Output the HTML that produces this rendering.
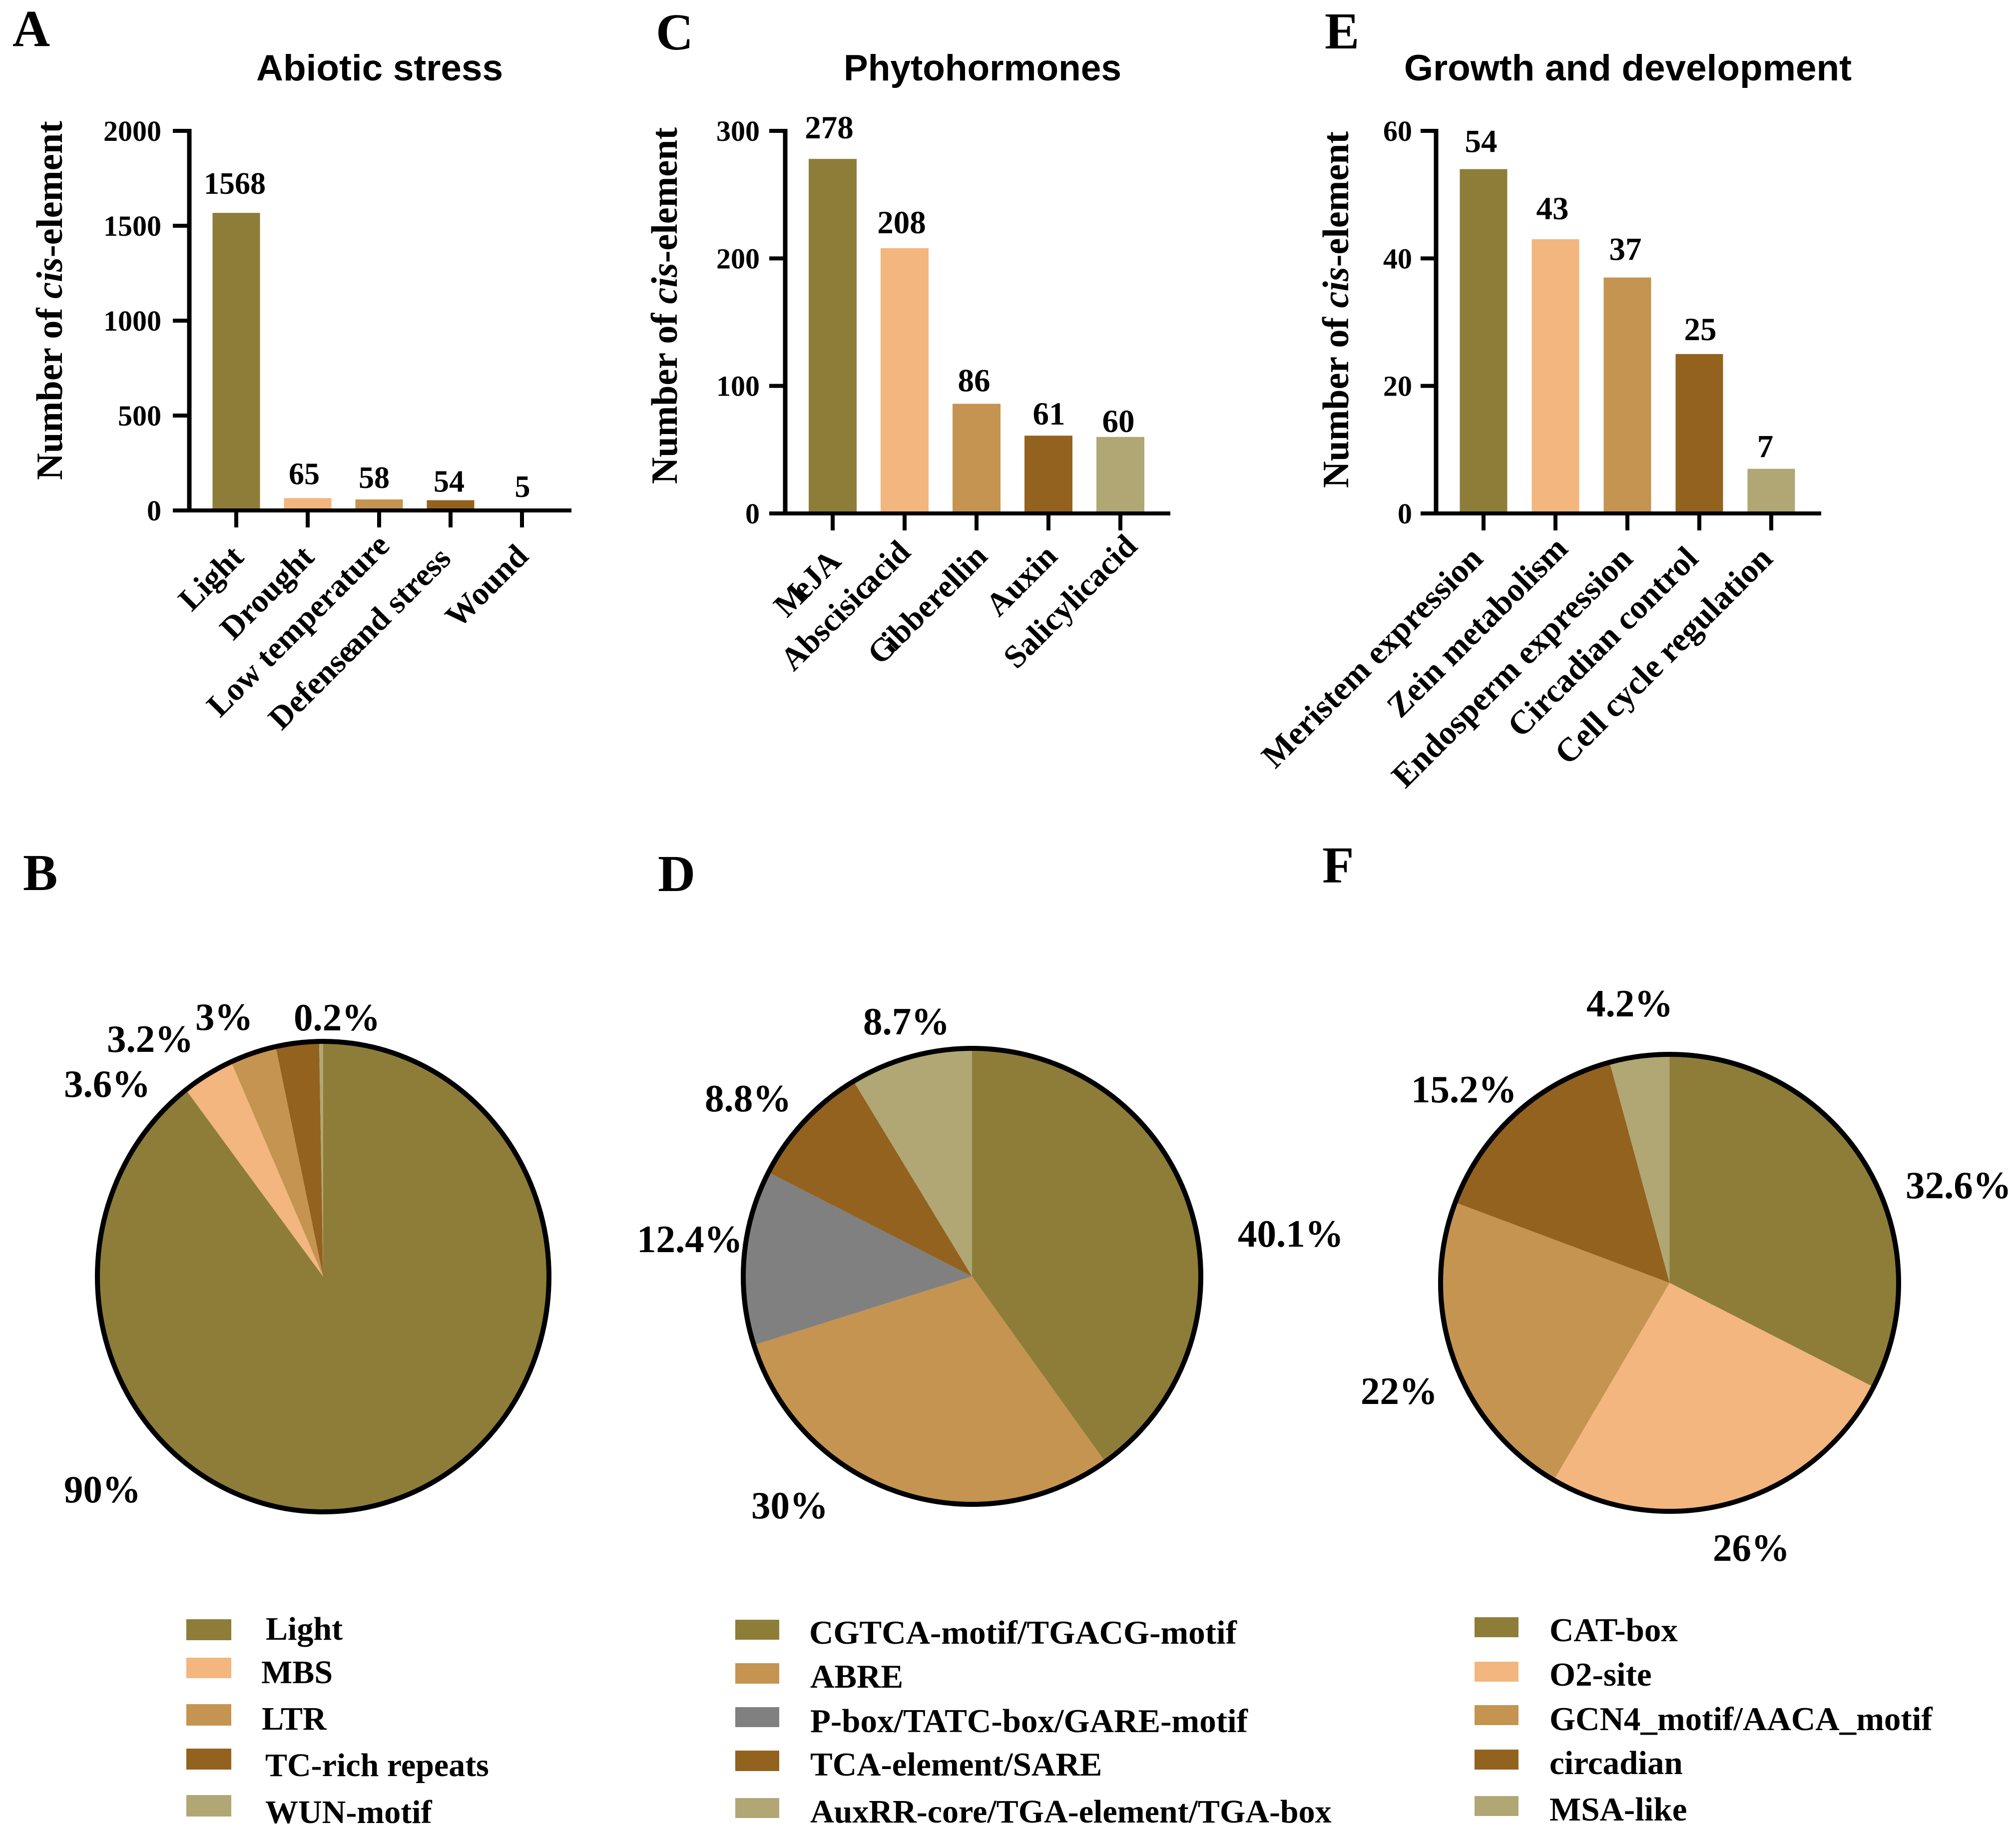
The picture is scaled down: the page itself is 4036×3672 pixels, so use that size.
<!DOCTYPE html>
<html lang="en">
<head>
<meta charset="utf-8">
<title>cis-element charts</title>
<style>
html,body{margin:0;padding:0;background:#fff;}
svg{display:block;}
text{font-family:"Liberation Serif",serif;font-weight:700;fill:#000;}
.ttl{font-family:"Liberation Sans",sans-serif;font-size:73px;}
.let{font-size:104px;}
.yl{font-size:74px;}
.leg{font-size:67px;}
.leg1{font-size:66px;}
</style>
</head>
<body>
<svg id="fig" xmlns="http://www.w3.org/2000/svg" width="4036" height="3672" viewBox="0 0 4036 3672">
<rect width="4036" height="3672" fill="#fff"/>

<text class="let" x="25" y="92">A</text>
<text class="let" x="46" y="1782">B</text>
<text class="let" x="1313" y="99">C</text>
<text class="let" x="1317" y="1784">D</text>
<text class="let" x="2652" y="97">E</text>
<text class="let" x="2647" y="1767">F</text>

<text class="ttl" x="513" y="161" textLength="494" lengthAdjust="spacingAndGlyphs">Abiotic stress</text>
<text class="ttl" x="1689" y="161" textLength="556" lengthAdjust="spacingAndGlyphs">Phytohormones</text>
<text class="ttl" x="2811" y="161" textLength="896" lengthAdjust="spacingAndGlyphs">Growth and development</text>

<text class="yl" transform="translate(124,961) rotate(-90)" textLength="719" lengthAdjust="spacingAndGlyphs">Number of <tspan font-style="italic">cis</tspan>-element</text>
<text class="yl" transform="translate(1355,969) rotate(-90)" textLength="714" lengthAdjust="spacingAndGlyphs">Number of <tspan font-style="italic">cis</tspan>-element</text>
<text class="yl" transform="translate(2699,977) rotate(-90)" textLength="714" lengthAdjust="spacingAndGlyphs">Number of <tspan font-style="italic">cis</tspan>-element</text>

<g id="plots"></g>

<g>
<g><rect x="373" y="3242" width="90" height="42" fill="#8D7D38"/><text class="leg1" x="532" y="3283">Light</text></g>
<g><rect x="373" y="3319" width="90" height="41" fill="#F2B67E"/><text class="leg1" x="523" y="3370">MBS</text></g>
<g><rect x="373" y="3412" width="90" height="43" fill="#C49450"/><text class="leg1" x="524" y="3463">LTR</text></g>
<g><rect x="373" y="3501" width="90" height="42" fill="#93621F"/><text class="leg1" x="531" y="3556">TC-rich repeats</text></g>
<g><rect x="373" y="3594" width="90" height="43" fill="#B1A774"/><text class="leg1" x="531" y="3650">WUN-motif</text></g>
</g>
<g>
<g><rect x="1472" y="3243" width="88" height="40" fill="#8D7D38"/><text class="leg" x="1620" y="3291">CGTCA-motif/TGACG-motif</text></g>
<g><rect x="1472" y="3330" width="88" height="41" fill="#C49450"/><text class="leg" x="1622" y="3379">ABRE</text></g>
<g><rect x="1472" y="3418" width="88" height="40" fill="#808080"/><text class="leg" x="1622" y="3468">P-box/TATC-box/GARE-motif</text></g>
<g><rect x="1472" y="3505" width="88" height="41" fill="#93621F"/><text class="leg" x="1622" y="3555">TCA-element/SARE</text></g>
<g><rect x="1472" y="3600" width="88" height="40" fill="#B1A774"/><text class="leg1" x="1622" y="3649">AuxRR-core/TGA-element/TGA-box</text></g>
</g>
<g>
<g><rect x="2952" y="3238" width="88" height="40" fill="#8D7D38"/><text class="leg" x="3102" y="3286">CAT-box</text></g>
<g><rect x="2952" y="3327" width="88" height="40" fill="#F2B67E"/><text class="leg" x="3102" y="3375">O2-site</text></g>
<g><rect x="2952" y="3414" width="88" height="40" fill="#C49450"/><text class="leg" x="3102" y="3464">GCN4_motif/AACA_motif</text></g>
<g><rect x="2952" y="3503" width="88" height="40" fill="#93621F"/><text class="leg" x="3102" y="3552">circadian</text></g>
<g><rect x="2952" y="3596" width="88" height="40" fill="#B1A774"/><text class="leg" x="3102" y="3645">MSA-like</text></g>
</g>
</svg>

<script>
const abioticCategories = ['Light', 'Drought', 'Low temperature', 'Defense and stress', 'Wound'];
const abioticCounts = [1568, 65, 58, 54, 5];
const abioticTicks = [0, 500, 1000, 1500, 2000];

const hormoneCategories = ['MeJA', 'Abscisic acid', 'Gibberellin', 'Auxin', 'Salicylic acid'];
const hormoneCounts = [278, 208, 86, 61, 60];
const hormoneTicks = [0, 100, 200, 300];

const growthCategories = ['Meristem expression', 'Zein metabolism', 'Endosperm expression', 'Circadian control', 'Cell cycle regulation'];
const growthCounts = [54, 43, 37, 25, 7];
const growthTicks = [0, 20, 40, 60];

/* Printed pie percentages; slice angles are drawn from the counts. */
const abioticShareLabels = ['90%', '3.6%', '3.2%', '3%', '0.2%'];
const hormoneShareLabels = ['40.1%', '30%', '12.4%', '8.8%', '8.7%'];
const growthShareLabels = ['32.6%', '26%', '22%', '15.2%', '4.2%'];

const OLIVE = '#8D7D38', PEACH = '#F2B67E', TAN = '#C49450', BROWN = '#93621F', KHAKI = '#B1A774', GREY = '#808080';
const NS = 'http://www.w3.org/2000/svg';
const plots = document.getElementById('plots');

function make(tag, attrs, parent) {
  const el = document.createElementNS(NS, tag);
  for (const k in attrs) el.setAttribute(k, attrs[k]);
  parent.appendChild(el);
  return el;
}

/* Labels whose glyphs overlap in the figure: [split index, extra shift in px] */
const labelOverlaps = {
  'MeJA': [1, -12],
  'Abscisic acid': [8, -24],
  'Salicylic acid': [9, -17],
  'Defense and stress': [7, -24],
  'Gibberellin': [1, -10]
};

function drawBarPanel(cfg) {
  const g = make('g', {}, plots);
  
  

  const yMax = cfg.ticks[cfg.ticks.length - 1];
  const yScale = v => cfg.y0 + (cfg.yTop - cfg.y0) * v / yMax;
  const xScale = i => cfg.x0 + cfg.step * i;

  cfg.values.forEach((v, i) => {
    const bar = make('rect', {
      x: xScale(i) - cfg.barW / 2,
      y: yScale(v),
      width: cfg.barW,
      height: Math.max(0, cfg.y0 - yScale(v)),
      fill: cfg.colors[i]
    }, g);
    
    

    const val = make('text', {
      x: xScale(i) + cfg.valDx[i],
      y: yScale(v) - cfg.valDy[i],
      'text-anchor': 'middle',
      'font-size': cfg.valSize
    }, g);
    val.textContent = String(v);
    
    

    const tick = make('line', {
      x1: xScale(i), x2: xScale(i), y1: cfg.y0, y2: cfg.y0 + 34,
      stroke: '#000', 'stroke-width': 8
    }, g);
    
    

    const ax = xScale(i) + cfg.catDx[i], ay = cfg.catY[i];
    const cat = make('text', {
      transform: 'translate(' + ax + ',' + ay + ') rotate(-45)',
      'text-anchor': 'end',
      'font-size': cfg.catSize
    }, g);
    const name = cfg.categories[i];
    const ov = labelOverlaps[name];
    if (ov) {
      const a = make('tspan', {}, cat);
      a.textContent = name.slice(0, ov[0]);
      const b = make('tspan', { dx: ov[1] }, cat);
      b.textContent = name.slice(ov[0]);
    } else {
      cat.textContent = name;
    }
    
    
  });

  cfg.ticks.forEach(t => {
    const tl = make('line', {
      x1: cfg.tickLeft, x2: cfg.axisX, y1: yScale(t), y2: yScale(t),
      stroke: '#000', 'stroke-width': 8
    }, g);
    
    

    const lab = make('text', {
      x: cfg.tickLabelRight, y: yScale(t) + 20,
      'text-anchor': 'end', 'font-size': 58
    }, g);
    lab.textContent = String(t);
    
    
  });

  const ya = make('line', {
    x1: cfg.axisX, x2: cfg.axisX, y1: cfg.yTop - 4, y2: cfg.y0 + 4,
    stroke: '#000', 'stroke-width': 9
  }, g);
  
  

  const xa = make('line', {
    x1: cfg.tickLeft, x2: cfg.axisEnd, y1: cfg.y0, y2: cfg.y0,
    stroke: '#000', 'stroke-width': 8
  }, g);
  
  
}

function drawPie(cfg) {
  const g = make('g', {}, plots);
  
  

  const total = cfg.values.reduce((a, b) => a + b, 0);
  const px = a => cfg.cx + cfg.rx * Math.sin(a);
  const py = a => cfg.cy - cfg.ry * Math.cos(a);
  let acc = 0;
  cfg.values.forEach((s, i) => {
    const a0 = acc / total * 2 * Math.PI;
    acc += s;
    const a1 = acc / total * 2 * Math.PI;
    const large = a1 - a0 > Math.PI ? 1 : 0;
    const d = 'M' + cfg.cx + ' ' + cfg.cy + 'L' + px(a0) + ' ' + py(a0) +
      'A' + cfg.rx + ' ' + cfg.ry + ' 0 ' + large + ' 1 ' + px(a1) + ' ' + py(a1) + 'Z';
    const slice = make('path', { d: d, fill: cfg.colors[i] }, g);
    
    

    const lab = make('text', { x: cfg.labelX[i], y: cfg.labelY[i], 'font-size': 77 }, g);
    lab.textContent = cfg.labels[i];
    
    
  });
  const ring = make('ellipse', {
    cx: cfg.cx, cy: cfg.cy, rx: cfg.rx, ry: cfg.ry,
    fill: 'none', stroke: '#000', 'stroke-width': 10
  }, g);
  
  
}

drawBarPanel({
  key: 'abiotic', categories: abioticCategories, values: abioticCounts, ticks: abioticTicks,
  colors: [OLIVE, PEACH, TAN, BROWN, KHAKI],
  axisX: 379, tickLeft: 346, tickLabelRight: 323, axisEnd: 1144, y0: 1022, yTop: 262,
  x0: 473, step: 143, barW: 95, valSize: 62, catSize: 65,
  valDx: [-3, -7, -10, -3, 1], valDy: [38, 28, 23, 17, 25],
  catDx: [18, 16, 24, 4, 16], catY: [1119, 1119, 1096, 1122, 1117]
});
drawBarPanel({
  key: 'phytohormones', categories: hormoneCategories, values: hormoneCounts, ticks: hormoneTicks,
  colors: [OLIVE, PEACH, TAN, BROWN, KHAKI],
  axisX: 1572, tickLeft: 1540, tickLabelRight: 1521, axisEnd: 2343, y0: 1028, yTop: 262,
  x0: 1667, step: 144, barW: 96, valSize: 65, catSize: 65,
  valDx: [-7, -6, -5, 1, -4], valDy: [41, 30, 25, 22, 10],
  catDx: [20, 15, 25, 21, 37], catY: [1127, 1109, 1117, 1117, 1097]
});
drawBarPanel({
  key: 'growth', categories: growthCategories, values: growthCounts, ticks: growthTicks,
  colors: [OLIVE, PEACH, TAN, BROWN, KHAKI],
  axisX: 2875, tickLeft: 2844, tickLabelRight: 2827, axisEnd: 3646, y0: 1028, yTop: 262,
  x0: 2970, step: 144, barW: 95, valSize: 65, catSize: 67,
  valDx: [-5, -6, -4, 2, -12], valDy: [34, 40, 35, 28, 23],
  catDx: [2, 28, 14, 1, 6], catY: [1122, 1102, 1122, 1122, 1122]
});

drawPie({
  key: 'abiotic', values: abioticCounts, labels: abioticShareLabels, colors: [OLIVE, PEACH, TAN, BROWN, KHAKI],
  cx: 647, cy: 2556, rx: 452, ry: 471,
  labelX: [128, 128, 214, 391, 588], labelY: [3008, 2196, 2106, 2062, 2063]
});
drawPie({
  key: 'phytohormones', values: hormoneCounts, labels: hormoneShareLabels, colors: [OLIVE, TAN, GREY, BROWN, KHAKI],
  cx: 1946, cy: 2555.5, rx: 458, ry: 456.5,
  labelX: [2478, 1504, 1275, 1411, 1728], labelY: [2496, 3040, 2507, 2225, 2071]
});
drawPie({
  key: 'growth', values: growthCounts, labels: growthShareLabels, colors: [OLIVE, PEACH, TAN, BROWN, KHAKI],
  cx: 3342.5, cy: 2568.5, rx: 458.5, ry: 457.5,
  labelX: [3815, 3429, 2724, 2825, 3176], labelY: [2399, 3125, 2811, 2207, 2035]
});
</script>
</body>
</html>
